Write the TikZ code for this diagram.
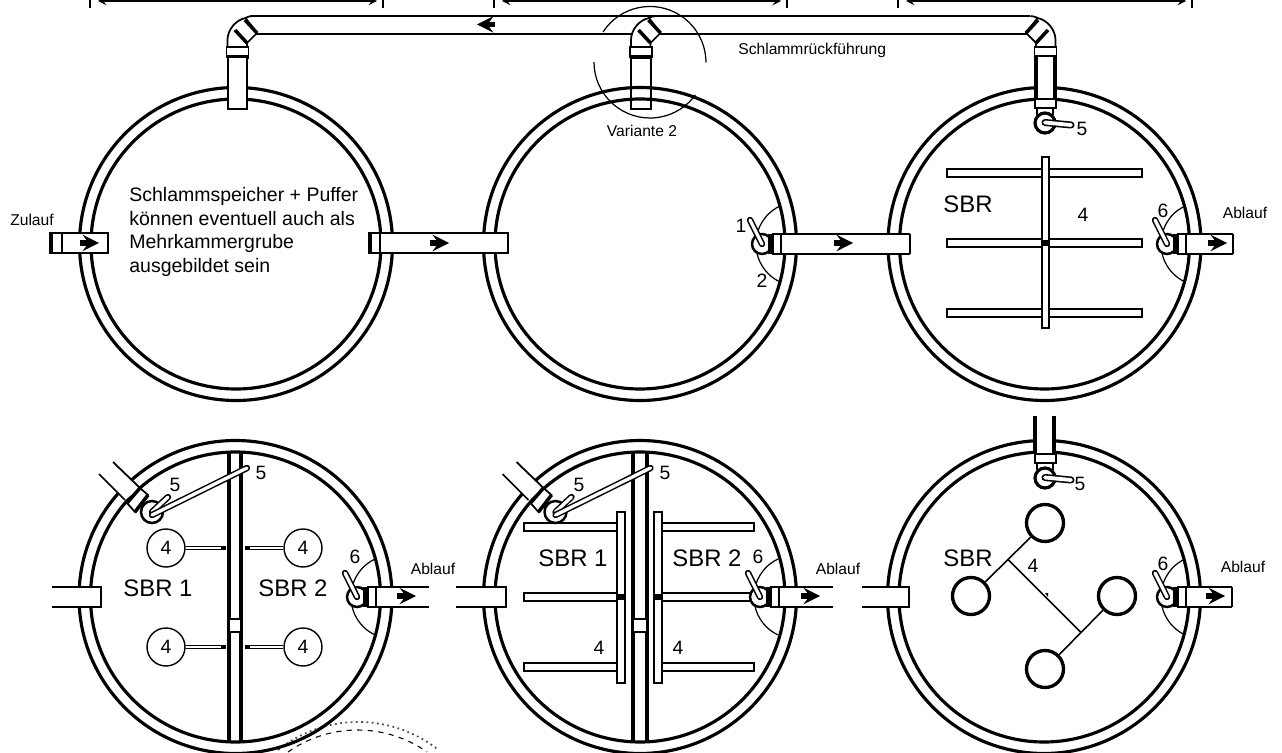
\documentclass[tikz,border=0pt]{standalone}
\usepackage{fontspec}
\setmainfont{Liberation Sans}
\usepackage{xcolor}
\usetikzlibrary{
		calc,
		positioning
	}
\tikzset{
		>=stealth,
		wall/.style={line width=1.8pt},
		pipe/.style={line width=1pt, fill=white},
		fine/.style={line width=0.7pt},
		heavy/.style={line width=2pt},
		flow/.style={->, line width=3pt},
		smalltxt/.style={font=\fontsize{8.9}{11}\selectfont},
		numtxt/.style={font=\fontsize{11}{12}\selectfont},
		bigtxt/.style={font=\fontsize{13.6}{15}\selectfont},
		rotor/.style={circle, draw, line width=0.8pt, minimum size=0.76cm, inner sep=0pt, font=\fontsize{11}{12}\selectfont},
		disk/.style={circle, draw, line width=1.9pt, minimum size=0.74cm, inner sep=0pt},
		paddle/.style={double, line width=0.55pt, double distance=0.8pt}
	}

\begin{document}
\begin{tikzpicture}[x=0.02cm, y=-0.02cm]
        \useasboundingbox (0,0) rectangle (1282,753);

        % the stamp that shows through the scan
        \draw[line width=1pt, dotted, black!70] (278,750) arc (231.5:308.5:129);
        \draw[line width=0.6pt, dashed] (288,752) arc (234.9:305.1:121);

        % draw the tanks
        \foreach \cx/\cy in {236/244, 640/244, 1044.5/244, 235.5/597, 640/597, 1044/597} {
            \draw[wall] (\cx,\cy) circle (156.5);
            \draw[wall] (\cx,\cy) circle (145);
        }

        % the dimension lines at the top
        \foreach \xa/\xb in {90/383, 494/787, 898/1192} {
            \coordinate (da) at (\xa+8,1);
            \coordinate (db) at (\xb-6,1);
            \draw[line width=1.1pt, <->] (da) -- (db);
            \draw[fine] (\xa,0) -- (\xa,8);
            \draw[fine] (\xb,0) -- (\xb,8);
        }

        % the sludge return line
        \draw[pipe] (250,16) -- (1030,16);
        \draw[pipe] (256,34) -- (1028,34);
        \draw[flow, <-] (477,24.5) -- (495,24.5);

        % the elbows (the right one is mirrored)
        \foreach \ax/\fl in {237.5/1, 641/1, 1045.5/-1} {
            \begin{scope}[shift={(\ax,0)}, xscale=\fl]
                \filldraw[pipe] (-10,47) -- (-10,40) .. controls (-10,30) and (-2,20) .. (8,18)
                    -- (19.5,33) -- (9.5,43) -- (9.5,47) -- cycle;
                \draw[pipe] (8,18) .. controls (10,17) and (12,16) .. (15,16);
                \draw[heavy] (-2.5,30) -- (9.5,43);
                \draw[heavy] (7.5,20) -- (19.5,33);
                \filldraw[pipe] (-11,47) rectangle (11,57);
                \draw[heavy] (-11,57) -- (11,57);
            \end{scope}
        }

        % the risers: first tank closed, second one see-through, third one goes on into the valve
        \filldraw[pipe] (228,57) rectangle (247,109);
        \draw[pipe, fill=none] (631,57) rectangle (651,109);
        \filldraw[pipe, draw=none] (1036,57) rectangle (1055,100);
        \draw[heavy] (1036,57) -- (1036,100);
        \draw[heavy] (1055,57) -- (1055,100);
        \filldraw[pipe, draw=none] (1035,416) rectangle (1054,454);
        \draw[heavy] (1035,416) -- (1035,454);
        \draw[heavy] (1054,416) -- (1054,454);

        % detail circle of the second riser
        \draw[fine] (603,32) arc (213:360:56);
        \draw[fine] (594,62) arc (180:36:56);

        % the valves 5 coming from above
        \foreach \sy in {0,355} {
            \begin{scope}[shift={(0,\sy)}]
                \filldraw[pipe, line width=1.4pt] (1035,99) rectangle (1056,108);
                \draw[pipe] (1037,108) -- (1037,115);
                \draw[pipe] (1053,108) -- (1053,115);
                \filldraw[wall, fill=white] (1045,123) circle (10);
                \draw[line width=4pt, line cap=round] (1045,122.5) -- (1071,125);
                \draw[line width=2.2pt, line cap=round, white] (1045,122.5) -- (1071,125);
            \end{scope}
        }

        % the inlets and the pipes between the tanks
        \filldraw[pipe] (50,233) rectangle (108,253);
        \draw[line width=1.6pt] (52,233) -- (52,253);
        \draw[line width=1pt] (62,233) -- (62,253);
        \draw[flow] (80,243) -- (99,243);
        \filldraw[pipe] (369,233) rectangle (508,253);
        \draw[line width=1.6pt] (371,233) -- (371,253);
        \draw[line width=1.2pt] (380,233) -- (380,253);
        \draw[flow] (430,243) -- (449,243);

        % the stubs of the lower row are open on the left
        \foreach \xa/\xb in {52/101, 456/506, 862/909} {
            \fill[white] (\xa,587) rectangle (\xb,607);
            \draw[pipe] (\xa,587) -- (\xb,587) -- (\xb,607) -- (\xa,607);
        }

        % the aerators of the third tank
        \foreach \yb in {169,239,309} {
            \filldraw[pipe] (947,\yb) rectangle (1142,\yb+8);
        }
        \filldraw[pipe] (1042,157) rectangle (1049,328);
        \fill (1042,240) rectangle (1049,246);

        % partition walls of the lower tanks
        \foreach \xa/\xb in {229/241, 633/647} {
            \draw[wall] (\xa,452) -- (\xa,742);
            \draw[wall] (\xb,452) -- (\xb,742);
            \fill[white] (\xa,619) rectangle (\xb,632);
            \draw[fine] (\xa,619) rectangle (\xb,632);
        }

        % the aerators of the fifth tank
        \foreach \yb in {523,593,663} {
            \filldraw[pipe] (524,\yb) rectangle (617,\yb+8);
            \filldraw[pipe] (662,\yb) rectangle (754,\yb+8);
        }
        \filldraw[pipe] (617,512) rectangle (625,683);
        \filldraw[pipe] (654,512) rectangle (662,683);
        \fill (617,594) rectangle (625,600);
        \fill (654,594) rectangle (662,600);

        % the slanted inlets with the two valves 5 (fourth and fifth tank)
        \foreach \sx in {0,403.5} {
            \begin{scope}[shift={(\sx,0)}]
                \fill[white] (113,462) -- (140,488) -- (125,500) -- (99,474) -- cycle;
                \draw[pipe] (113,462) -- (140,488);
                \draw[pipe] (99,474) -- (125,500);
                \filldraw[line width=1.4pt, fill=white] (152,512) circle (11);
                \filldraw[pipe] (140,488) -- (127,503) -- (135,512) -- (148,495) -- cycle;
                \draw[heavy] (140,488) -- (127,503);
                \draw[heavy] (148,495) -- (135,512);
                \draw[line width=3.6pt, line cap=round] (152,512) -- (168,497);
                \draw[line width=1.9pt, line cap=round, white] (152,512) -- (168,497);
                \draw[line width=3.6pt, line cap=round] (152,515) -- (247,468);
                \draw[line width=1.9pt, line cap=round, white] (152,515) -- (247,468);
            \end{scope}
        }

        % the outlets with the valves 1/6: x of band, y of axis, end of pipe, start of arrow
        \foreach \ox/\oy/\pe/\ac in {
            773/244/137/61, 1178/244/55/30, 368/597/61/29, 771/597/62/30, 1178/597/54/28
        } {
            \begin{scope}[shift={(\ox,\oy)}]
                \draw[fine] (7,-38) arc (244.7:115.3:42);
                \filldraw[line width=1.4pt, fill=white] (-11,0) circle (10);
                \fill (-5,-10) rectangle (0,10);
                \filldraw[pipe] (0,-10) rectangle (9,10);
                \draw[heavy] (9,-10) -- (9,10);
                \fill[white] (9,-10) rectangle (\pe,10);
                \draw[pipe] (9,-10) -- (\pe,-10);
                \draw[pipe] (9,10) -- (\pe,10);
                \draw[line width=3.6pt, line cap=round] (-11,0) -- (-23,-24);
                \draw[line width=1.9pt, line cap=round, white] (-11,0) -- (-23,-24);
                \draw[flow] (\ac,-1) -- (\ac+19,-1);
            \end{scope}
        }
        % only three of the pipes have a closed end
        \draw[pipe] (910,234) -- (910,254);
        \draw[pipe] (1233,234) -- (1233,254);
        \draw[pipe] (1232,587) -- (1232,607);

        % the rotors of the fourth tank
        \foreach \rx/\ry/\tx [count=\i] in {166/548/226, 303/548/245, 166/647/226, 303/647/245} {
            \node[rotor] (rot\i) at (\rx,\ry) {4};
            \coordinate (tip\i) at (\tx,\ry);
            \draw[paddle] (rot\i) -- (tip\i);
            \draw[line width=1.9pt] (tip\i) -- ($(tip\i)!3pt!(rot\i)$);
        }

        % the disks of the sixth tank
        \node[disk] (disk1) at (1045,523) {};
        \node[disk] (disk2) at (971,596) {};
        \node[disk] (disk3) at (1117,596) {};
        \node[disk] (disk4) at (1045,669) {};
        \coordinate (junc1) at ($(disk1)!0.5!(disk2)$);
        \coordinate (junc2) at ($(disk3)!0.5!(disk4)$);
        \draw[line width=0.9pt] (disk1) -- (disk2);
        \draw[line width=0.9pt] (disk3) -- (disk4);
        \draw[line width=0.9pt] (junc1) -- (junc2);
        \fill (1045,593) -- (1048,593) -- (1048,597) -- cycle;

        % the texts
        \node[align=left, anchor=west, inner sep=0pt, font=\fontsize{11.1}{13.4}\selectfont] (note) at (129,232)
            {Schlammspeicher + Puffer\\können eventuell auch als\\Mehrkammergrube\\ausgebildet sein};
        \node[smalltxt] (zulauf) at (32,220) {Zulauf};
        \node[smalltxt, anchor=west, inner sep=0pt] (rueck) at (738,50) {Schlammrückführung};
        \node[smalltxt] (var) at (642,131) {Variante 2};
        \foreach \lx/\ly [count=\i] in {1245/213, 433/569, 838/569, 1243/567} {
            \node[smalltxt] (abl\i) at (\lx,\ly) {Ablauf};
        }
        \foreach \lx/\ly/\lt [count=\i] in {
            968/204/SBR, 158/588/SBR 1, 293/588/SBR 2, 573/558/SBR 1, 707/558/SBR 2, 968/558/SBR
        } {
            \node[bigtxt] (sbr\i) at (\lx,\ly) {\lt};
        }
        \foreach \lx/\ly/\lt [count=\i] in {
            741/226/1, 762/281/2, 1082/129/5, 1083/215/4, 1163/211/6,
            175/485/5, 261/473/5, 355/557/6,
            579/485/5, 665/473/5, 758/557/6, 599/648/4, 678/648/4,
            1080/484/5, 1033/566/4, 1163/564/6
        } {
            \node[numtxt] (num\i) at (\lx,\ly) {\lt};
        }
\end{tikzpicture}
\end{document}
